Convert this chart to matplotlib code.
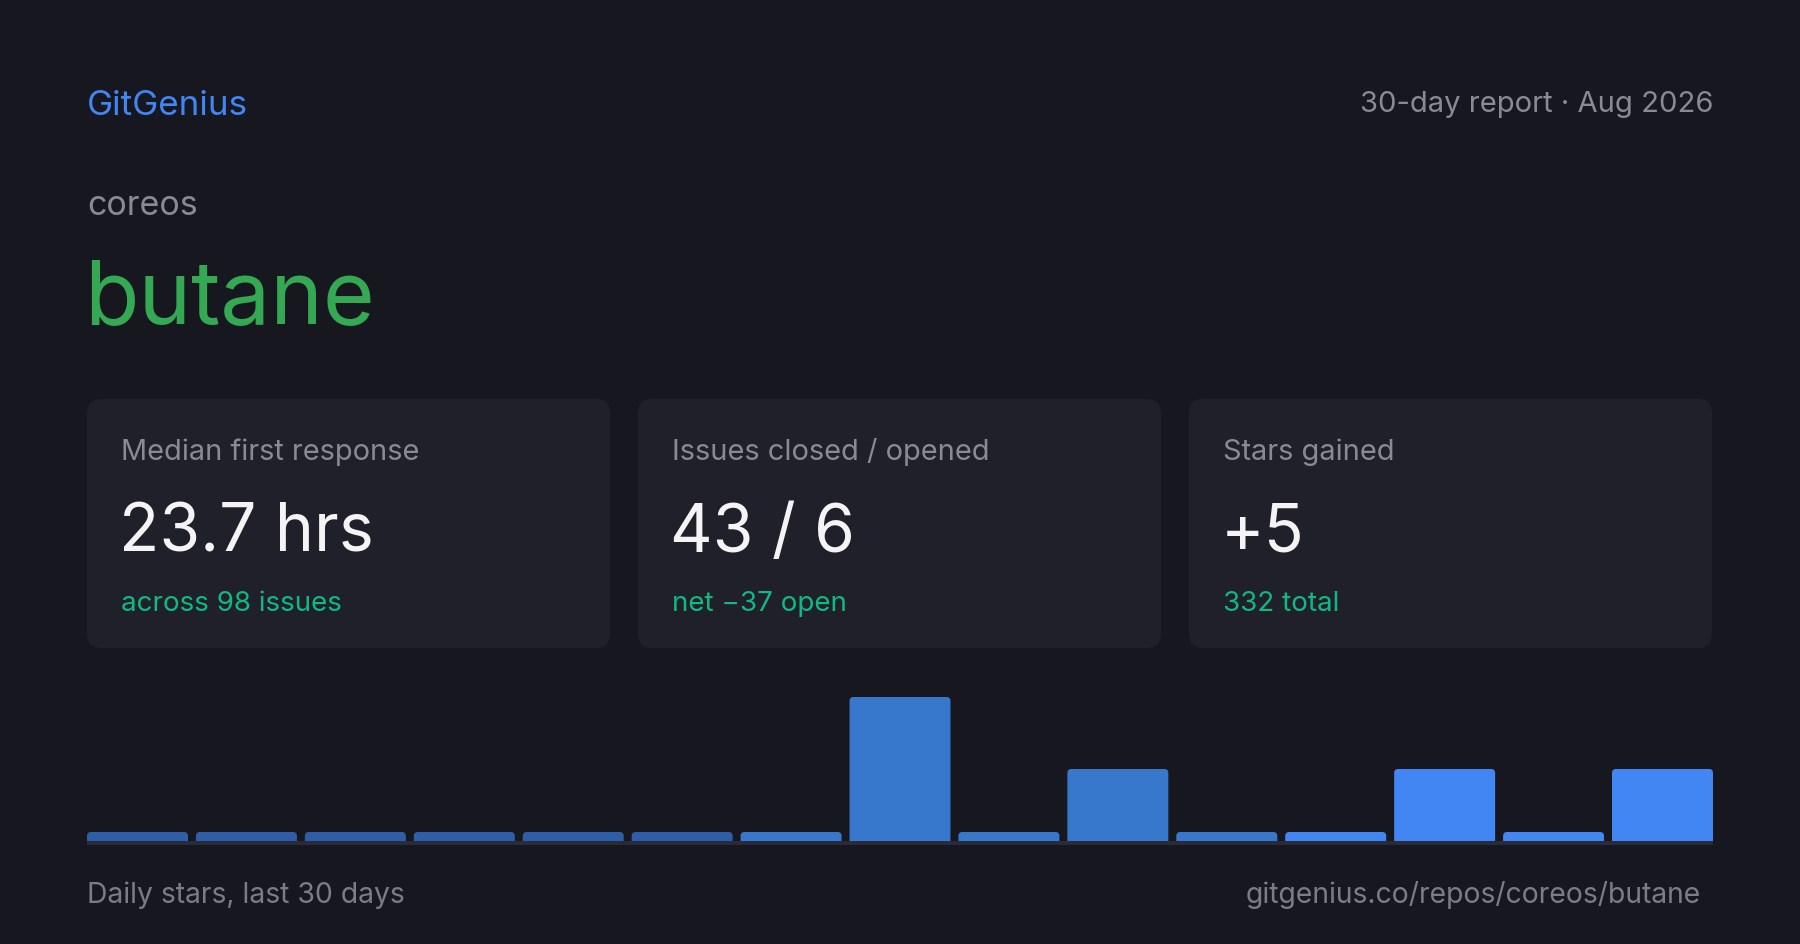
import matplotlib
matplotlib.use("Agg")
import matplotlib.pyplot as plt
from matplotlib.patches import FancyBboxPatch

plt.rcParams['font.family'] = ['Inter', 'DejaVu Sans']

# data
brand = "GitGenius"
report = "30-day report \u00b7 Aug 2026"
owner = "coreos"
repo = "butane"
card_labels = ["Median first response", "Issues closed / opened", "Stars gained"]
card_values = ["23.7 hrs", "43 / 6", "+5"]
card_notes = ["across 98 issues", "net \u221237 open", "332 total"]
daily_stars = [0, 0, 0, 0, 0, 0, 0, 2, 0, 1, 0, 0, 1, 0, 1]
bar_colors = ["#2f5ea9"] * 6 + ["#3778cc"] * 5 + ["#4286f4"] * 4
footer_left = "Daily stars, last 30 days"
footer_right = "gitgenius.co/repos/coreos/butane"

W, H = 1800, 945
BG = "#16171f"
CARD = "#1f2029"
GRAY = "#8a8a94"

fig = plt.figure(figsize=(W / 100, H / 100), dpi=100, facecolor=BG)
bg = fig.add_axes([0, 0, 1, 1])
bg.set_xlim(0, W)
bg.set_ylim(0, H)
bg.axis("off")


def Y(y):
    return H - y


def px(size):
    return size * 0.72


# header
bg.text(87, Y(115), brand, color="#4285f4", fontsize=px(35), va="baseline")
bg.text(1713, Y(112), report, color=GRAY, fontsize=px(29.2), va="baseline", ha="right")
bg.text(87, Y(215), owner, color=GRAY, fontsize=px(34), va="baseline")
bg.text(84, Y(323), repo, color="#34a853", fontsize=px(89), va="baseline")

# cards
card_w, gap = 523, 28
for i, (lab, val, note) in enumerate(zip(card_labels, card_values, card_notes)):
    x0 = 87 + i * (card_w + gap)
    bg.add_patch(FancyBboxPatch((x0, Y(649)), card_w, 249,
                                boxstyle="round,pad=0,rounding_size=14",
                                fc=CARD, ec="none"))
    bg.text(x0 + 34, Y(460), lab, color=GRAY, fontsize=px(29), va="baseline")
    bg.text(x0 + 32, Y(552), val, color="#f4f4f5", fontsize=px(66), va="baseline")
    bg.text(x0 + 34, Y(611), note, color="#10b981", fontsize=px(27.8), va="baseline")

# bar chart
n = len(daily_stars)
bw = 101 / 108.93
left, right, base = 87, 1713, 842
ppu_y = 72
ax = fig.add_axes([left / W, (H - base) / H, (right - left) / W, 2.2 * ppu_y / H])
ax.set_xlim(-bw / 2, n - 1 + bw / 2)
ax.set_ylim(0, 2.2)
ax.axis("off")
ax.patch.set_alpha(0)
ppu_x = (right - left) / (n - 1 + bw)
min_h = 9 / ppu_y
r = 4 / ppu_x
asp = ppu_x / ppu_y
for i, v in enumerate(daily_stars):
    h = max(v, min_h)
    ax.add_patch(FancyBboxPatch((i - bw / 2, -r * asp), bw, h + r * asp,
                                boxstyle=f"round,pad=0,rounding_size={r}",
                                mutation_aspect=asp, fc=bar_colors[i], ec="none"))

bg.add_patch(plt.Rectangle((left, Y(846)), right - left, 4, fc="#2a2b38", ec="none"))

# footer
bg.text(87, Y(903), footer_left, color="#7c7c86", fontsize=px(28.3), va="baseline")
bg.text(1701, Y(903), footer_right, color="#7c7c86", fontsize=px(28.3), va="baseline", ha="right")

fig.savefig("out.png", dpi=100, facecolor=BG)
